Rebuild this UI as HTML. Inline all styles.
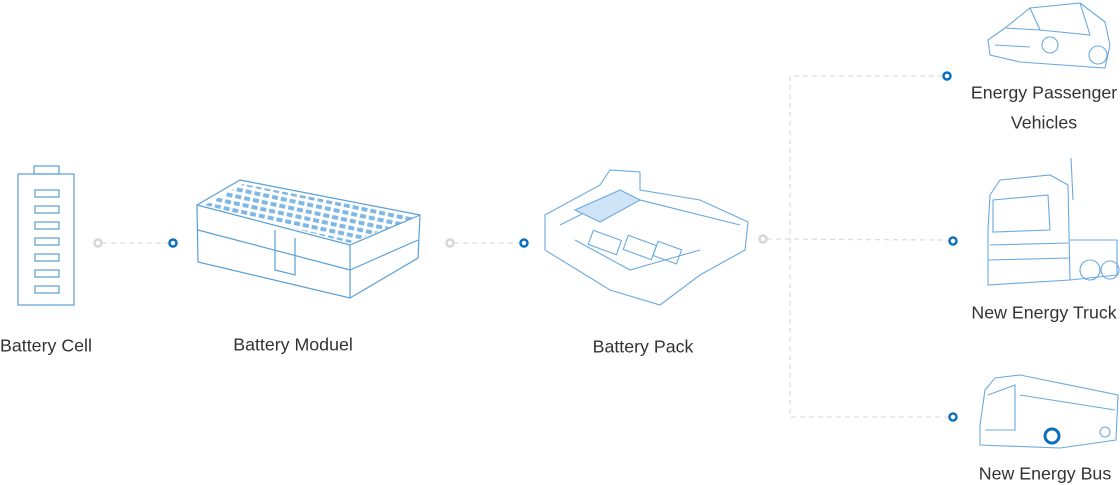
<!DOCTYPE html>
<html><head><style>
body{margin:0;width:1120px;height:485px;background:#fff;overflow:hidden;position:relative;font-family:"Liberation Sans",sans-serif;}
.t{position:absolute;font-size:17.8px;color:#333;white-space:nowrap;transform:translate(-50%,-50%);}
svg{position:absolute;left:0;top:0}
</style></head><body>
<svg width="1120" height="485" viewBox="0 0 1120 485">
<defs>
<pattern id="g" width="9" height="7" patternUnits="userSpaceOnUse" patternTransform="rotate(12)">
<rect x="1" y="1" width="6" height="4" fill="#7fb8e6"/>
</pattern>
</defs>
<g fill="none" stroke="#ddd" stroke-width="1.3" stroke-dasharray="5,4">
<line x1="102" y1="243" x2="169" y2="243"/>
<line x1="454" y1="243" x2="520" y2="243"/>
<line x1="767" y1="239" x2="949" y2="240"/>
<polyline points="943,76 790,76 790,417 949,417"/>
</g>
<g fill="#fff" stroke-width="2.5">
<circle cx="98" cy="243" r="3.5" stroke="#d6d6d6"/>
<circle cx="450" cy="243" r="3.5" stroke="#d6d6d6"/>
<circle cx="763" cy="239" r="3.5" stroke="#d6d6d6"/>
<circle cx="173" cy="243" r="3.5" stroke="#0a6fbd"/>
<circle cx="524" cy="243" r="3.5" stroke="#0a6fbd"/>
<circle cx="947" cy="76" r="3.5" stroke="#0a6fbd"/>
<circle cx="953" cy="241" r="3.5" stroke="#0a6fbd"/>
<circle cx="953" cy="417" r="3.5" stroke="#0a6fbd"/>
</g>
<path d="M205 205 L243 184 L415 217 L350 243 Z" fill="url(#g)"/>
<g fill="none" stroke="#5a9fd6" stroke-width="1.2">
<rect x="18" y="174" width="56" height="131"/>
<rect x="34" y="166" width="25" height="8"/>
<rect x="35" y="190" width="24" height="7"/><rect x="35" y="206" width="24" height="7"/>
<rect x="35" y="222" width="24" height="7"/><rect x="35" y="238" width="24" height="7"/>
<rect x="35" y="254" width="24" height="7"/><rect x="35" y="270" width="24" height="7"/>
<rect x="35" y="286" width="24" height="7"/>
<path d="M197 205 L240 180 L420 215 L418 258 L350 298 L198 262 Z"/>
<path d="M197 205 L350 245 L420 215 M350 245 L350 298 M198 230 L350 270 L418 240"/>
<path d="M275 230 L275 270 L295 275 L295 238"/>
</g>
<g fill="none" stroke="#6aaae0" stroke-width="1.1">
<path d="M545 215 L600 185 L610 170 L640 172 L640 190 L670 195 L700 200 L748 222 L745 250 L700 275 L660 305 L610 290 L545 250 Z"/>
<path d="M560 225 L620 195 L740 225 M575 240 L630 270 L700 250"/>
<path d="M575 210 L620 190 L640 200 L600 222 Z" fill="#cfe4f6"/>
<rect x="590" y="235" width="30" height="15" transform="rotate(20 605 242)"/>
<rect x="625" y="240" width="30" height="15" transform="rotate(20 640 247)"/>
<rect x="655" y="245" width="25" height="15" transform="rotate(20 667 252)"/>
<path d="M988 40 L1005 28 L1030 8 L1080 3 L1105 22 L1110 45 L1105 68 L1020 62 L990 55 Z"/>
<path d="M1030 8 L1040 30 L1090 35 L1080 3 M1040 30 L1005 28 M995 45 L1030 47"/>
<circle cx="1050" cy="45" r="8"/><circle cx="1098" cy="55" r="9"/>
<path d="M988 230 L990 195 L1000 180 L1050 175 L1068 185 L1070 280 L988 285 Z"/>
<path d="M993 200 L1048 195 L1050 230 L993 232 Z M988 260 L1070 258 M990 245 L1068 243"/>
<path d="M1070 240 L1117 240 L1117 275 L1070 280"/>
<circle cx="1090" cy="270" r="10"/><circle cx="1110" cy="270" r="9"/>
<line x1="1071" y1="158" x2="1073" y2="200"/>
<path d="M980 425 L985 390 L995 378 L1020 375 L1118 395 L1116 440 L1060 448 L980 445 Z"/>
<path d="M988 395 L1015 385 L1015 430 L985 430 M1020 395 L1115 410"/>
<circle cx="1052" cy="436" r="7" stroke="#0a6fbd" stroke-width="3"/>
<circle cx="1105" cy="432" r="5"/>
</g>
</svg>
<div class="t" style="left:46px;top:346px">Battery Cell</div>
<div class="t" style="left:293px;top:345px">Battery Moduel</div>
<div class="t" style="left:643px;top:347px">Battery Pack</div>
<div class="t" style="left:1044px;top:93px">Energy Passenger</div>
<div class="t" style="left:1044px;top:123px">Vehicles</div>
<div class="t" style="left:1044px;top:313px">New Energy Truck</div>
<div class="t" style="left:1045px;top:474px">New Energy Bus</div>
</body></html>
